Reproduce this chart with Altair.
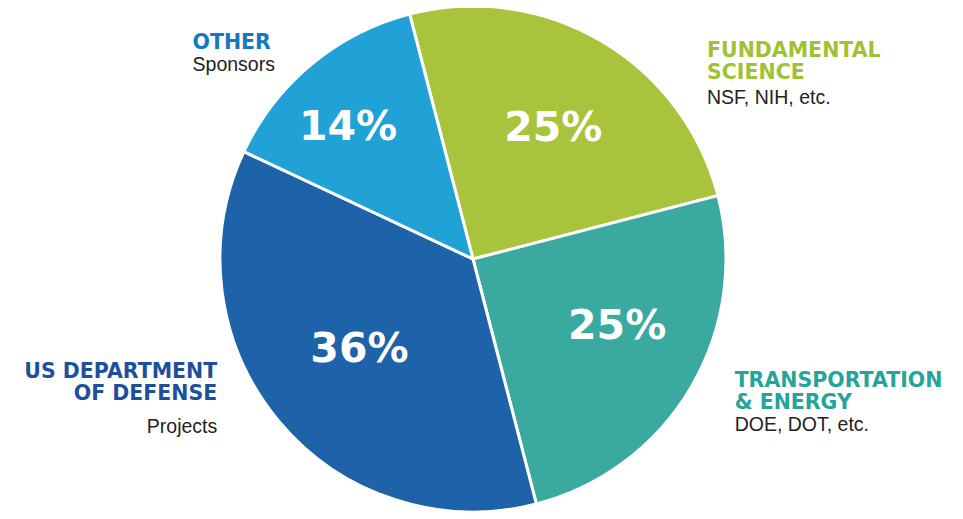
import math
import altair as alt
import pandas as pd

# ---- data ----
categories = ["Fundamental Science", "Transportation & Energy", "US Department of Defense", "Other"]
shares = [25, 25, 36, 14]
pct_labels = ["25%", "25%", "36%", "14%"]
titles = ["FUNDAMENTAL\nSCIENCE", "TRANSPORTATION\n& ENERGY", "US DEPARTMENT\nOF DEFENSE", "OTHER"]
subtitles = ["NSF, NIH, etc.", "DOE, DOT, etc.", "Projects", "Sponsors"]

slice_colors = ["#a9c43c", "#3aa9a0", "#1e63a9", "#20a2d6"]
title_colors = ["#9fc232", "#27a499", "#1d4f9f", "#1677c2"]
sub_color = "#222222"

df = pd.DataFrame({
    "cat": categories,
    "share": shares,
    "pct": pct_labels,
    "title": titles,
    "sub": subtitles,
    "idx": list(range(len(categories))),
})

START = math.radians(-14.5)
theta_scale = alt.Scale(domain=[0, 100], range=[START, START + 2 * math.pi])

base = alt.Chart(df).encode(
    theta=alt.Theta("share:Q", stack=True, scale=theta_scale),
    order=alt.Order("idx:Q", sort="ascending"),
)

pie = base.mark_arc(outerRadius=253, stroke="white", strokeWidth=3).encode(
    color=alt.Color("cat:N", scale=alt.Scale(domain=categories, range=slice_colors), legend=None)
)

layers = [pie]

# percentage labels inside slices
pct_offsets = [(0, 6), (8, -12), (8, -10), (-24, -9)]
for i, cat in enumerate(categories):
    dx, dy = pct_offsets[i]
    layers.append(
        base.mark_text(radius=158, font="DejaVu Sans", fontWeight="bold", fontSize=41,
                       color="white", align="center", baseline="middle", dx=dx, dy=dy).encode(
            text=alt.condition(f"datum.cat == '{cat}'", alt.Text("pct:N"), alt.value(""))
        )
    )

# outside labels: (align, title dx, title dy, subtitle dy)
label_pos = [
    ("left", 97, 31, 78),
    ("left", 29, -9, 35),
    ("right", -48, -53, 2),
    ("left", -108, -2, 20),
]
for i, cat in enumerate(categories):
    align, dx, dy, sdy = label_pos[i]
    layers.append(
        base.mark_text(radius=270, font="DejaVu Sans", fontWeight="bold", fontSize=20.5,
                       color=title_colors[i], align=align, baseline="alphabetic",
                       lineBreak="\n", lineHeight=22, dx=dx, dy=dy).encode(
            text=alt.condition(f"datum.cat == '{cat}'", alt.Text("title:N"), alt.value(""))
        )
    )
    layers.append(
        base.mark_text(radius=270, font="Liberation Sans", fontSize=19.5,
                       color=sub_color, align=align, baseline="alphabetic", dx=dx, dy=sdy).encode(
            text=alt.condition(f"datum.cat == '{cat}'", alt.Text("sub:N"), alt.value(""))
        )
    )

chart = alt.layer(*layers).properties(
    width=930,
    height=502,
    padding={"left": 0, "top": 0, "right": 17, "bottom": 1},
    autosize=alt.AutoSizeParams(type="none"),
    background="white",
).configure_view(stroke=None)

chart.save("out.html", embed_options={"renderer": "svg", "actions": False})
